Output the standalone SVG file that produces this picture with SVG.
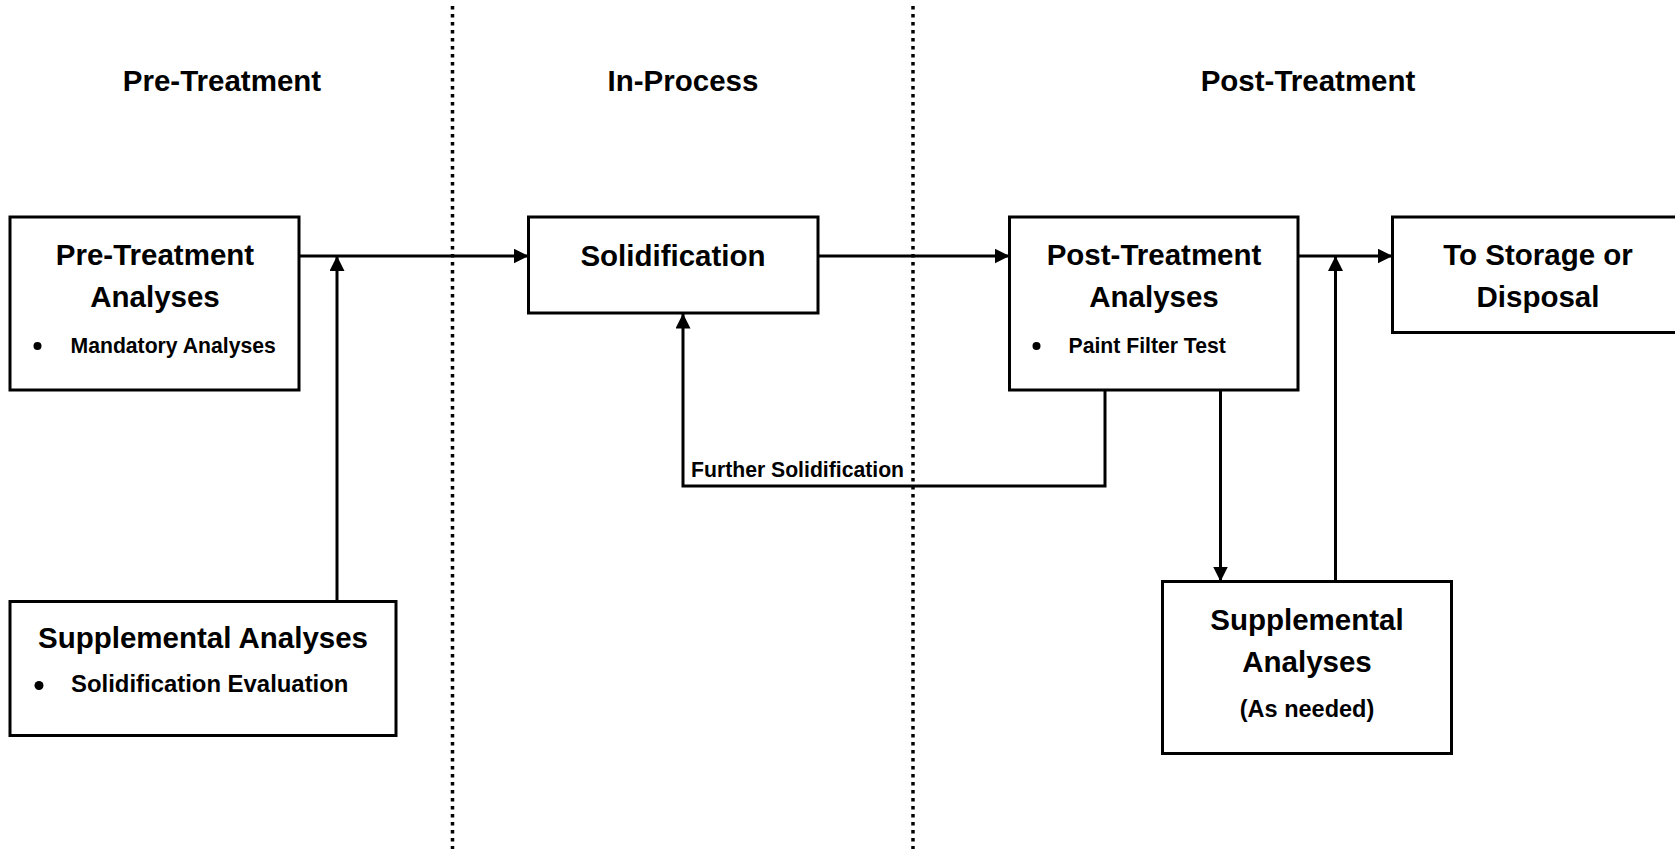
<svg xmlns="http://www.w3.org/2000/svg" width="1675" height="849" viewBox="0 0 1675 849">
  <defs>
    <marker id="arrow" markerUnits="userSpaceOnUse" markerWidth="15" markerHeight="15" refX="15" refY="7.5" orient="auto">
      <path d="M0,0 L15,7.5 L0,15 Z" fill="#000"/>
    </marker>
    <style>
      text { font-family: "Liberation Sans", Arial, sans-serif; font-weight: bold; fill: #000; }
      .head { font-size: 29.5px; text-anchor: middle; }
      .title { font-size: 29.5px; text-anchor: middle; }
      .item { font-size: 21.2px; }
      .item-lg { font-size: 23.9px; }
      .note { font-size: 23.5px; text-anchor: middle; }
      .box { fill: #fff; stroke: #000; stroke-width: 3; }
      .conn { fill: none; stroke: #000; stroke-width: 3; }
      .divider { fill: none; stroke: #000; stroke-width: 3.5; stroke-dasharray: 3.5 4.5; }
    </style>
  </defs>
  <rect width="1675" height="849" fill="#fff"/>

  <!-- phase dividers -->
  <g id="dividers">
    <line class="divider" x1="452.5" y1="6" x2="452.5" y2="849"/>
    <line class="divider" x1="913" y1="6" x2="913" y2="849"/>
  </g>

  <!-- phase headings -->
  <g id="headings">
    <text class="head" x="222" y="91">Pre-Treatment</text>
    <text class="head" x="683" y="91">In-Process</text>
    <text class="head" x="1308" y="91">Post-Treatment</text>
  </g>

  <!-- connectors -->
  <g id="connectors">
    <path class="conn" d="M299,256 H528.5" marker-end="url(#arrow)"/>
    <path class="conn" d="M337,601.5 V256" marker-end="url(#arrow)"/>
    <path class="conn" d="M818,256 H1009.5" marker-end="url(#arrow)"/>
    <path class="conn" d="M1298,256 H1392.5" marker-end="url(#arrow)"/>
    <path class="conn" d="M1335.5,581.5 V256" marker-end="url(#arrow)"/>
    <path class="conn" d="M1220.5,390 V581.5" marker-end="url(#arrow)"/>
    <path class="conn" d="M1105,390 V486 H683 V313.5" marker-end="url(#arrow)"/>
    <text class="item" x="691" y="477">Further Solidification</text>
  </g>

  <g id="pre-treatment-analyses">
    <rect class="box" x="10" y="217" width="289" height="173"/>
    <text class="title" x="155" y="265">Pre-Treatment</text>
    <text class="title" x="155" y="307">Analyses</text>
    <circle cx="37.5" cy="346" r="4"/>
    <text class="item" x="70.5" y="353">Mandatory Analyses</text>
  </g>

  <g id="supplemental-pre">
    <rect class="box" x="10" y="601.5" width="386" height="134"/>
    <text class="title" x="203" y="648">Supplemental Analyses</text>
    <circle cx="39" cy="685.5" r="4.5"/>
    <text class="item-lg" x="71" y="692">Solidification Evaluation</text>
  </g>

  <g id="solidification">
    <rect class="box" x="528.5" y="217" width="289.5" height="96"/>
    <text class="title" x="673" y="266">Solidification</text>
  </g>

  <g id="post-treatment-analyses">
    <rect class="box" x="1009.5" y="217" width="288.5" height="173"/>
    <text class="title" x="1154" y="264.5">Post-Treatment</text>
    <text class="title" x="1154" y="307">Analyses</text>
    <circle cx="1036.5" cy="346" r="4"/>
    <text class="item" x="1068.5" y="353">Paint Filter Test</text>
  </g>

  <g id="storage-disposal">
    <rect class="box" x="1392.5" y="217" width="300" height="115.5"/>
    <text class="title" x="1538" y="264.5">To Storage or</text>
    <text class="title" x="1538" y="307">Disposal</text>
  </g>

  <g id="supplemental-post">
    <rect class="box" x="1162.5" y="581.5" width="289" height="172"/>
    <text class="title" x="1307" y="630">Supplemental</text>
    <text class="title" x="1307" y="672">Analyses</text>
    <text class="note" x="1307" y="717">(As needed)</text>
  </g>
</svg>
